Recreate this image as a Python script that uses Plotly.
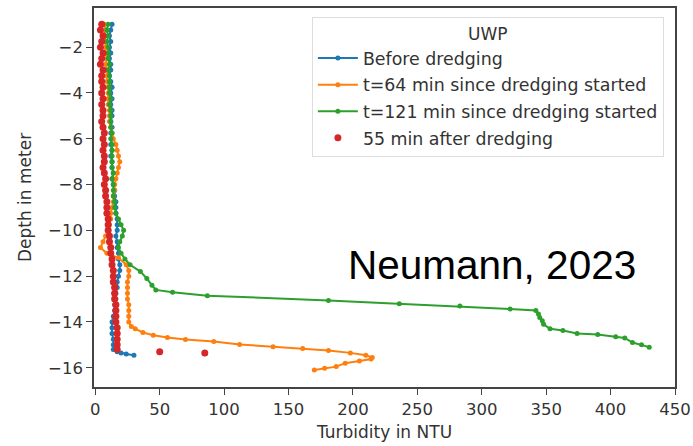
import plotly.graph_objects as go

# ---- data ----
before_depth = [-1.0, -1.25, -1.5, -1.75, -2.0, -2.25, -2.5, -2.75, -3.0, -3.25, -3.5, -3.75,
                -4.0, -4.25, -4.5, -4.75, -5.0, -5.25, -5.5, -5.75, -6.0, -6.25, -6.5, -6.75,
                -7.0, -7.25, -7.5, -7.75, -8.0, -8.25, -8.5, -8.75, -9.0, -9.25, -9.5, -9.75,
                -10.0, -10.25, -10.5, -10.75, -11.0, -11.25, -11.5, -11.75, -12.0, -12.25,
                -12.5, -12.75, -13.0, -13.25, -13.5, -13.75, -14.0, -14.25, -14.5, -14.75,
                -15.0, -15.2, -15.3, -15.35, -15.4, -15.45]
before_ntu = [13, 12, 11, 12, 11, 12, 11, 12, 12, 11, 12, 13,
              12, 13, 12, 13, 13, 12, 13, 12, 13, 12, 13, 12,
              13, 13, 14, 13, 14, 15, 15, 16, 16, 16, 17, 17,
              17, 16, 17, 17, 18, 18, 19, 19, 18, 17,
              17, 16, 16, 15, 15, 14, 13, 13, 13, 14,
              14, 14, 17, 20, 24, 30]

t64_depth = [-1.0, -1.25, -1.5, -1.75, -2.0, -2.25, -2.5, -2.75, -3.0, -3.25, -3.5, -3.75,
             -4.0, -4.25, -4.5, -4.75, -5.0, -5.25, -5.5, -5.75, -6.0, -6.25, -6.5, -6.75,
             -7.0, -7.25, -7.5, -7.75, -8.0, -8.25, -8.5, -8.75, -9.0, -9.25, -9.5, -9.75,
             -10.0, -10.25, -10.5, -10.75, -11.0, -11.2, -11.5, -11.75, -12.0, -12.25, -12.5,
             -12.75, -13.0, -13.25, -13.5, -13.75, -14.0, -14.2, -14.3, -14.46, -14.58, -14.68,
             -14.77, -14.85, -14.98, -15.08, -15.16, -15.25, -15.35, -15.45, -15.55, -15.62,
             -15.7, -15.8, -15.95, -16.02, -16.1]
t64_ntu = [7, 8, 7, 8, 8, 8, 9, 8, 9, 9, 9, 10,
           10, 10, 10, 11, 11, 11, 12, 13, 14, 16, 17, 18,
           19, 18, 17, 16, 15, 15, 14, 14, 13, 12, 12, 11,
           10, 8, 6, 4, 9, 18, 24, 26, 26, 25, 25,
           25, 25, 26, 26, 26, 26, 28, 31, 37, 45, 56,
           70, 92, 112, 138, 161, 181, 198, 210, 215, 214,
           205, 194, 187, 178, 170]

t121_depth = [-1.0, -1.25, -1.5, -1.75, -2.0, -2.25, -2.5, -2.75, -3.0, -3.25, -3.5, -3.75,
              -4.0, -4.25, -4.5, -4.75, -5.0, -5.25, -5.5, -5.75, -6.0, -6.25, -6.5, -6.75,
              -7.0, -7.25, -7.5, -7.75, -8.0, -8.25, -8.5, -8.75, -9.0, -9.25, -9.5, -9.75,
              -10.0, -10.25, -10.5, -10.75, -11.0, -11.25, -11.5, -11.8, -12.1, -12.4, -12.6,
              -12.7, -12.85, -13.06, -13.2, -13.3, -13.43, -13.5, -13.65, -13.8, -13.95, -14.1,
              -14.3, -14.37, -14.5, -14.55, -14.65, -14.7, -14.9, -15.0, -15.1]
t121_ntu = [10, 9, 10, 9, 10, 10, 10, 11, 10, 11, 11, 11,
            11, 12, 11, 12, 12, 12, 12, 13, 12, 13, 13, 13,
            13, 13, 14, 13, 14, 14, 14, 15, 15, 16, 18, 20,
            22, 21, 19, 18, 20, 23, 27, 35, 40, 44, 47,
            60, 87, 181, 236, 283, 322, 342, 344, 345, 347, 348,
            353, 363, 374, 390, 404, 411, 417, 424, 430]

after_depth = [-1.0, -1.25, -1.5, -1.75, -2.0, -2.25, -2.5, -2.75, -3.0, -3.25, -3.5, -3.75,
               -4.0, -4.25, -4.5, -4.75, -5.0, -5.25, -5.5, -5.75, -6.0, -6.25, -6.5, -6.75,
               -7.0, -7.25, -7.5, -7.75, -8.0, -8.25, -8.5, -8.75, -9.0, -9.25, -9.5, -9.75,
               -10.0, -10.25, -10.5, -10.75, -11.0, -11.25, -11.5, -11.75, -12.0, -12.25,
               -12.5, -12.75, -13.0, -13.25, -13.5, -13.75, -14.0, -14.25, -14.5, -14.75,
               -15.0, -15.2, -15.3, -15.35]
after_ntu = [5, 4, 6, 5, 4, 6, 5, 4, 6, 5, 5, 6,
             5, 6, 5, 6, 6, 5, 6, 7, 6, 7, 6, 7,
             7, 6, 7, 8, 7, 8, 8, 9, 9, 9, 10, 10,
             10, 11, 11, 12, 12, 13, 13, 14, 14, 14,
             15, 15, 15, 16, 16, 16, 16, 17, 17, 17,
             17, 17, 50, 85]

x_ticks = [0, 50, 100, 150, 200, 250, 300, 350, 400, 450]
y_ticks = [-16, -14, -12, -10, -8, -6, -4, -2]

names = ["Before dredging", "t=64 min since dredging started",
         "t=121 min since dredging started", "55 min after dredging"]
colors = ["#1f77b4", "#ff7f0e", "#2ca02c", "#d62728"]

fig = go.Figure()
series = [(before_ntu, before_depth), (t64_ntu, t64_depth), (t121_ntu, t121_depth)]
for i, (x, y) in enumerate(series):
    fig.add_trace(go.Scatter(x=x, y=y, mode="lines+markers", name=names[i],
                             legendgroup=str(i),
                             line=dict(color=colors[i], width=2),
                             marker=dict(color=colors[i], size=5)))
fig.add_trace(go.Scatter(x=after_ntu, y=after_depth, mode="markers", name=names[3],
                         legendgroup="3",
                         marker=dict(color=colors[3], size=7)))

axis_common = dict(showline=True, mirror=True, linecolor="#444", linewidth=1.5,
                   ticks="outside", ticklen=6, tickwidth=1.2, tickcolor="#444",
                   showgrid=False, zeroline=False, automargin=False,
                   tickfont=dict(family="DejaVu Sans", size=16.5, color="#333"))

fig.update_layout(
    width=693, height=446,
    margin=dict(l=94, r=18, t=8, b=59),
    plot_bgcolor="white", paper_bgcolor="white",
    xaxis=dict(range=[-1, 450], tickvals=x_ticks,
               title=dict(text="Turbidity in NTU", standoff=9,
                          font=dict(family="DejaVu Sans", size=17, color="#333")),
               **axis_common),
    yaxis=dict(range=[-16.84, -0.29], tickvals=y_ticks,
               title=dict(text="Depth in meter", standoff=12,
                          font=dict(family="DejaVu Sans", size=17, color="#333")),
               **axis_common),
    legend=dict(x=0.375, y=0.976, xanchor="left", yanchor="top",
                bgcolor="rgba(255,255,255,0.8)", bordercolor="#ddd", borderwidth=1,
                font=dict(family="DejaVu Sans", size=17.4, color="#333"),
                title=dict(text="UWP", side="top center",
                           font=dict(family="DejaVu Sans", size=17, color="#333")),
                tracegroupgap=1, itemwidth=40),
    showlegend=True,
)

fig.add_annotation(text="Neumann, 2023", xref="paper", yref="paper",
                   x=0.685, y=0.322, xanchor="center", yanchor="middle",
                   showarrow=False,
                   font=dict(family="Liberation Sans", size=40.5, color="black"))

fig.write_html("out.html", config={"displayModeBar": False},
               post_script="document.body.style.margin='0';")
